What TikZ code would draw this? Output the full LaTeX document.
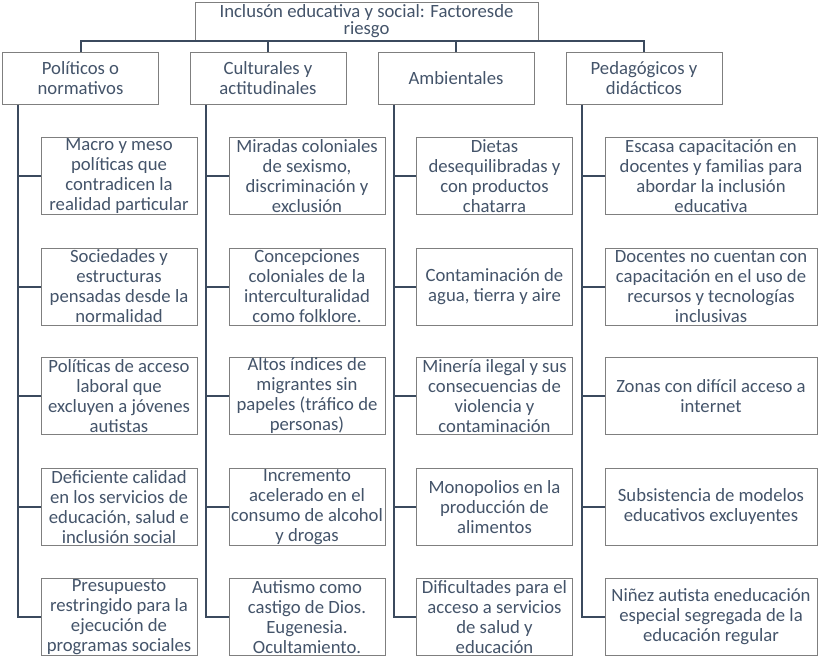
\documentclass[tikz,border=0pt]{standalone}
\usepackage{fontspec}
\setmainfont{Carlito}
\definecolor{linecol}{HTML}{3B4A5E}
\definecolor{boxline}{HTML}{7F7F7F}
\definecolor{txtcol}{HTML}{44546A}
\tikzset{
  factor/.style={draw=boxline, line width=1pt, fill=white, text=txtcol, align=center,
    inner xsep=0pt, inner ysep=-3pt, minimum width=156pt, minimum height=52pt,
    font=\fontsize{18.7}{20}\selectfont},
  item/.style={factor, minimum height=77pt},
  wideitem/.style={item, minimum width=212pt},
  conn/.style={draw=linecol, line width=2pt}
}
\begin{document}
\begin{tikzpicture}[x=1pt, y=-1pt]
  \useasboundingbox (0,0) rectangle (821,659);

  % Root
  \node[factor, minimum width=343pt, minimum height=38pt, font=\fontsize{18.7}{17}\selectfont]
    (root) at (366.5,21) {Inclusón educativa y social: Factoresde\\riesgo};

  % Factor groups
  \node[factor] (pol) at (80.5,78) {Políticos o\\normativos};
  \node[factor] (cul) at (268,78) {Culturales y\\actitudinales};
  \node[factor] (amb) at (456,78) {Ambientales};
  \node[factor] (ped) at (644,78) {Pedagógicos y\\didácticos};

  % Políticos o normativos
  \node[item] (pol1) at (119,176) {Macro y meso\\políticas que\\contradicen la\\realidad particular};
  \node[item] (pol2) at (119,286.5) {Sociedades y\\estructuras\\pensadas desde la\\normalidad};
  \node[item] (pol3) at (119,396) {Políticas de acceso\\laboral que\\excluyen a jóvenes\\autistas};
  \node[item] (pol4) at (119,507) {Deficiente calidad\\en los servicios de\\educación, salud e\\inclusión social};
  \node[item] (pol5) at (119,617) {Presupuesto\\restringido para la\\ejecución de\\programas sociales};

  % Culturales y actitudinales
  \node[item] (cul1) at (307,176) {Miradas coloniales\\de sexismo,\\discriminación y\\exclusión};
  \node[item] (cul2) at (307,286.5) {Concepciones\\coloniales de la\\interculturalidad\\como folklore.};
  \node[item] (cul3) at (307,396) {Altos índices de\\migrantes sin\\papeles (tráfico de\\personas)};
  \node[item] (cul4) at (307,507) {Incremento\\acelerado en el\\consumo de alcohol\\y drogas};
  \node[item] (cul5) at (307,617) {Autismo como\\castigo de Dios.\\Eugenesia.\\Ocultamiento.};

  % Ambientales
  \node[item] (amb1) at (494.5,176) {Dietas\\desequilibradas y\\con productos\\chatarra};
  \node[item] (amb2) at (494.5,286.5) {Contaminación de\\agua, tierra y aire};
  \node[item] (amb3) at (494.5,396) {Minería ilegal y sus\\consecuencias de\\violencia y\\contaminación};
  \node[item] (amb4) at (494.5,507) {Monopolios en la\\producción de\\alimentos};
  \node[item] (amb5) at (494.5,617) {Dificultades para el\\acceso a servicios\\de salud y\\educación};

  % Pedagógicos y didácticos
  \node[wideitem] (ped1) at (711,176) {Escasa capacitación en\\docentes y familias para\\abordar la inclusión\\educativa};
  \node[wideitem] (ped2) at (711,286.5) {Docentes no cuentan con\\capacitación en el uso de\\recursos y tecnologías\\inclusivas};
  \node[wideitem] (ped3) at (711,396) {Zonas con difícil acceso a\\internet};
  \node[wideitem] (ped4) at (711,507) {Subsistencia de modelos\\educativos excluyentes};
  \node[wideitem] (ped5) at (711,617) {Niñez autista eneducación\\especial segregada de la\\educación regular};

  % Top bus
  \draw[conn] (pol.north) |- (root.south) -| (ped.north);
  \draw[conn] (cul.north) -- (cul.north |- root.south);
  \draw[conn] (amb.north) -- (amb.north |- root.south);

  % Trunks and branches
  \foreach \c in {pol,cul,amb,ped}
  {
    \coordinate (\c-t) at ([xshift=16pt]\c.south west);
    \draw[conn] (\c-t) |- (\c5.west);
    \foreach \i in {1,...,4}
      \draw[conn] (\c\i.west -| \c-t) -- (\c\i.west);
  }
\end{tikzpicture}
\end{document}
